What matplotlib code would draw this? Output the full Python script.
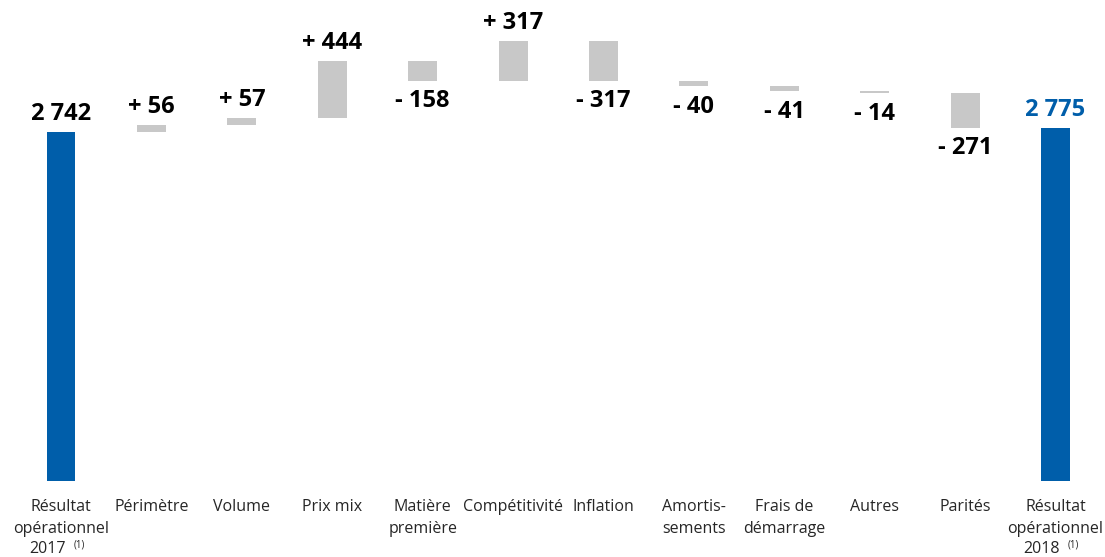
import numpy as np
import matplotlib
matplotlib.use('agg')
import matplotlib.pyplot as plt

plt.rcParams['font.family'] = ['Open Sans', 'DejaVu Sans']

categories = ["Résultat\nopérationnel", "Périmètre", "Volume", "Prix mix",
              "Matière\npremière", "Compétitivité", "Inflation", "Amortis-\nsements",
              "Frais de\ndémarrage", "Autres", "Parités", "Résultat\nopérationnel"]
start_value = 2742
deltas = [56, 57, 444, -158, 317, -317, -40, -41, -14, -271]
end_value = 2775
value_labels = ["2 742", "+ 56", "+ 57", "+ 444", "- 158", "+ 317", "- 317",
                "- 40", "- 41", "- 14", "- 271", "2 775"]
years = ["2017", "2018"]

blue = '#005EAA'
grey = '#C8C8C8'
txt = '#262626'

fig = plt.figure(figsize=(11.05, 5.57), dpi=100)
ax = fig.add_axes([0.0143, 0.1364, 0.9818, 0.8636])

x = np.arange(len(categories))
width = 0.32

# totals
ax.bar(x[0], start_value, width=width, color=blue)
ax.bar(x[-1], end_value, width=width, color=blue)

# steps
level = start_value
bottoms, heights = [], []
for d in deltas:
    bottoms.append(level if d >= 0 else level + d)
    heights.append(abs(d))
    level += d
ax.bar(x[1:-1], heights, bottom=bottoms, width=width, color=grey)

# value labels
ax.annotate(value_labels[0], (x[0], start_value), xytext=(0, 4), textcoords='offset points',
            ha='center', va='bottom', fontsize=17, fontweight='bold', color='black')
ax.annotate(value_labels[-1], (x[-1], end_value), xytext=(0, 4), textcoords='offset points',
            ha='center', va='bottom', fontsize=17, fontweight='bold', color=blue)
for i, d in enumerate(deltas):
    b, h = bottoms[i], heights[i]
    if d >= 0:
        ax.annotate(value_labels[i + 1], (x[i + 1], b + h), xytext=(0, 4), textcoords='offset points',
                    ha='center', va='bottom', fontsize=17, fontweight='bold')
    else:
        ax.annotate(value_labels[i + 1], (x[i + 1], b), xytext=(0, -6), textcoords='offset points',
                    ha='center', va='top', fontsize=17, fontweight='bold')

ax.set_xlim(-0.5, len(categories) - 0.5)
ax.set_ylim(0, 3778)
ax.set_xticks(x)
ax.set_xticklabels(categories, fontsize=11.5, color=txt, linespacing=1.5)
ax.tick_params(axis='x', length=0, pad=13)
ax.set_yticks([])
for s in ax.spines.values():
    s.set_visible(False)

# year line with footnote under the two totals
for xi, yr in zip([x[0], x[-1]], years):
    ax.annotate(yr, (xi, 0), xycoords=('data', 'axes fraction'), xytext=(-10, -43),
                textcoords='offset points', ha='center', va='top', fontsize=11.5, color=txt)
    ax.annotate('(1)', (xi, 0), xycoords=('data', 'axes fraction'), xytext=(9, -42),
                textcoords='offset points', ha='left', va='top', fontsize=7, color=txt)

fig.savefig('out.png', dpi=100)
